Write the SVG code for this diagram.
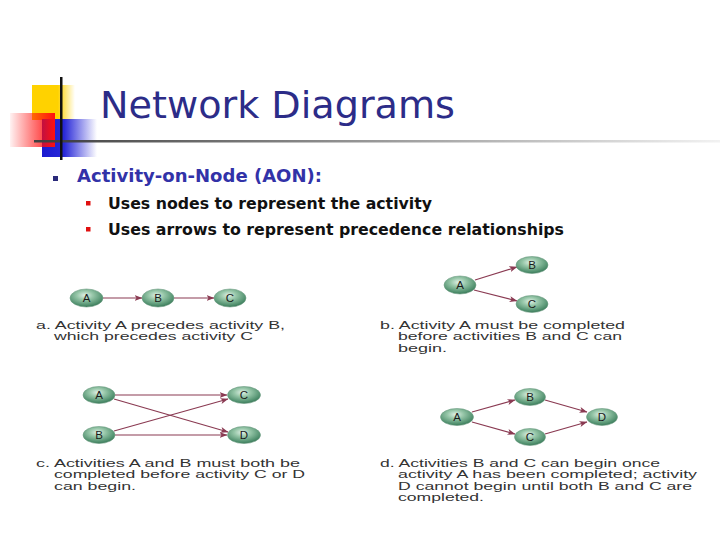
<svg xmlns="http://www.w3.org/2000/svg" width="720" height="540" viewBox="0 0 720 540">
<defs>
<linearGradient id="gYellow" x1="0" y1="0" x2="1" y2="0"><stop offset="0" stop-color="#ffd200"/><stop offset="0.6" stop-color="#ffd200"/><stop offset="1" stop-color="#ffd200" stop-opacity="0"/></linearGradient>
<linearGradient id="gRed" x1="0" y1="0" x2="1" y2="0"><stop offset="0" stop-color="#ff0000" stop-opacity="0.05"/><stop offset="1" stop-color="#ff1010"/></linearGradient>
<linearGradient id="gBlue" x1="0" y1="0" x2="1" y2="0"><stop offset="0" stop-color="#1a1ad0"/><stop offset="0.4" stop-color="#2828d8"/><stop offset="1" stop-color="#2828d8" stop-opacity="0"/></linearGradient>
<linearGradient id="gLine" x1="0" y1="0" x2="1" y2="0"><stop offset="0" stop-color="#404040"/><stop offset="1" stop-color="#404040" stop-opacity="0.05"/></linearGradient>
<radialGradient id="gNode" cx="0.45" cy="0.35" r="0.7"><stop offset="0" stop-color="#dff0e6"/><stop offset="0.35" stop-color="#96c6a8"/><stop offset="0.8" stop-color="#4e8e6c"/><stop offset="1" stop-color="#2e6a4c"/></radialGradient>
<marker id="ah" markerWidth="8" markerHeight="6" refX="7.5" refY="3" orient="auto" markerUnits="userSpaceOnUse"><path d="M0,0 L8,3 L0,6 L2,3 z" fill="#8a3a52"/></marker>
<style>
.node ellipse{fill:url(#gNode);stroke:#6a9a80;stroke-width:0.6}
.node text{font-family:"Liberation Sans",Arial,sans-serif;font-size:11.5px;fill:#1a1a1a;text-anchor:middle}
.conn line{stroke:#8a3a52;stroke-width:1.2;marker-end:url(#ah)}
.cap{font-family:"Liberation Sans",Arial,sans-serif;font-size:10.5px;fill:#333}
.sub{font-family:"DejaVu Sans",Tahoma,sans-serif;font-weight:bold;font-size:16px;fill:#111}
</style>
</defs>
<rect width="720" height="540" fill="#fff"/>
<g id="logo">
<rect x="32" y="85" width="43" height="35" fill="url(#gYellow)"/>
<rect x="42" y="119" width="55" height="38" fill="url(#gBlue)"/>
<rect x="10" y="113" width="45" height="34" fill="url(#gRed)"/>
<rect x="34" y="140" width="700" height="2.5" fill="url(#gLine)"/>
<rect x="60" y="77" width="2.5" height="83" fill="#111"/>
</g>
<text x="100" y="118" font-family="DejaVu Sans,Tahoma,sans-serif" font-size="38" fill="#2c2c88" textLength="355" lengthAdjust="spacingAndGlyphs">Network Diagrams</text>
<rect x="53" y="176" width="5" height="5" fill="#2a2a7a"/>
<text x="77" y="182" font-family="DejaVu Sans,Tahoma,sans-serif" font-weight="bold" font-size="17" fill="#3232a8" textLength="245" lengthAdjust="spacingAndGlyphs">Activity-on-Node (AON):</text>
<rect x="86" y="201" width="4.5" height="4.5" fill="#e01010"/>
<text class="sub" x="108" y="209" textLength="324" lengthAdjust="spacingAndGlyphs">Uses nodes to represent the activity</text>
<rect x="86" y="227" width="4.5" height="4.5" fill="#e01010"/>
<text class="sub" x="108" y="235" textLength="456" lengthAdjust="spacingAndGlyphs">Uses arrows to represent precedence relationships</text>

<g id="connectors" class="conn">
<line x1="103" y1="298" x2="142" y2="298"/>
<line x1="174" y1="298" x2="214" y2="298"/>
<line x1="475" y1="280" x2="517" y2="267"/>
<line x1="474" y1="290" x2="517" y2="301"/>
<line x1="115" y1="395" x2="227" y2="395"/>
<line x1="114" y1="399" x2="228" y2="432"/>
<line x1="114" y1="431" x2="228" y2="399"/>
<line x1="115" y1="435" x2="227" y2="435"/>
<line x1="472" y1="412" x2="515" y2="400"/>
<line x1="472" y1="422" x2="515" y2="434"/>
<line x1="545" y1="400" x2="587" y2="412"/>
<line x1="545" y1="434" x2="587" y2="422"/>
</g>

<g id="a-A" class="node"><ellipse cx="86.5" cy="298" rx="16.5" ry="9"/><text x="86.5" y="302">A</text></g>
<g id="a-B" class="node"><ellipse cx="158" cy="298" rx="16" ry="9"/><text x="158" y="302">B</text></g>
<g id="a-C" class="node"><ellipse cx="230" cy="298" rx="16" ry="9"/><text x="230" y="302">C</text></g>

<g id="b-A" class="node"><ellipse cx="460" cy="285" rx="16" ry="9"/><text x="460" y="289">A</text></g>
<g id="b-B" class="node"><ellipse cx="532" cy="265" rx="16" ry="8.5"/><text x="532" y="269">B</text></g>
<g id="b-C" class="node"><ellipse cx="532" cy="304" rx="16" ry="8.5"/><text x="532" y="308">C</text></g>

<g id="c-A" class="node"><ellipse cx="99" cy="395" rx="16" ry="8.5"/><text x="99" y="399">A</text></g>
<g id="c-B" class="node"><ellipse cx="99" cy="435" rx="16" ry="8.5"/><text x="99" y="439">B</text></g>
<g id="c-C" class="node"><ellipse cx="244" cy="395" rx="16.5" ry="8.5"/><text x="244" y="399">C</text></g>
<g id="c-D" class="node"><ellipse cx="244" cy="435" rx="16.5" ry="8.5"/><text x="244" y="439">D</text></g>

<g id="d-A" class="node"><ellipse cx="457" cy="417" rx="16.5" ry="8.5"/><text x="457" y="421">A</text></g>
<g id="d-B" class="node"><ellipse cx="530" cy="397" rx="15.5" ry="8.5"/><text x="530" y="401">B</text></g>
<g id="d-C" class="node"><ellipse cx="530" cy="437" rx="15.5" ry="8.5"/><text x="530" y="441">C</text></g>
<g id="d-D" class="node"><ellipse cx="602" cy="417" rx="15.5" ry="8.5"/><text x="602" y="421">D</text></g>

<g id="captions">
<text class="cap" x="36" y="328.5" textLength="249" lengthAdjust="spacingAndGlyphs">a. Activity A precedes activity B,</text>
<text class="cap" x="54" y="340" textLength="199" lengthAdjust="spacingAndGlyphs">which precedes activity C</text>
<text class="cap" x="380" y="328.5" textLength="245" lengthAdjust="spacingAndGlyphs">b. Activity A must be completed</text>
<text class="cap" x="398" y="340" textLength="224" lengthAdjust="spacingAndGlyphs">before activities B and C can</text>
<text class="cap" x="398" y="351.5" textLength="49" lengthAdjust="spacingAndGlyphs">begin.</text>
<text class="cap" x="36" y="466.5" textLength="264" lengthAdjust="spacingAndGlyphs">c. Activities A and B must both be</text>
<text class="cap" x="54" y="478" textLength="251" lengthAdjust="spacingAndGlyphs">completed before activity C or D</text>
<text class="cap" x="54" y="489.5" textLength="82" lengthAdjust="spacingAndGlyphs">can begin.</text>
<text class="cap" x="380" y="466.5" textLength="280" lengthAdjust="spacingAndGlyphs">d. Activities B and C can begin once</text>
<text class="cap" x="398" y="478" textLength="299" lengthAdjust="spacingAndGlyphs">activity A has been completed; activity</text>
<text class="cap" x="398" y="489.5" textLength="294" lengthAdjust="spacingAndGlyphs">D cannot begin until both B and C are</text>
<text class="cap" x="398" y="501" textLength="86" lengthAdjust="spacingAndGlyphs">completed.</text>
</g>
</svg>
